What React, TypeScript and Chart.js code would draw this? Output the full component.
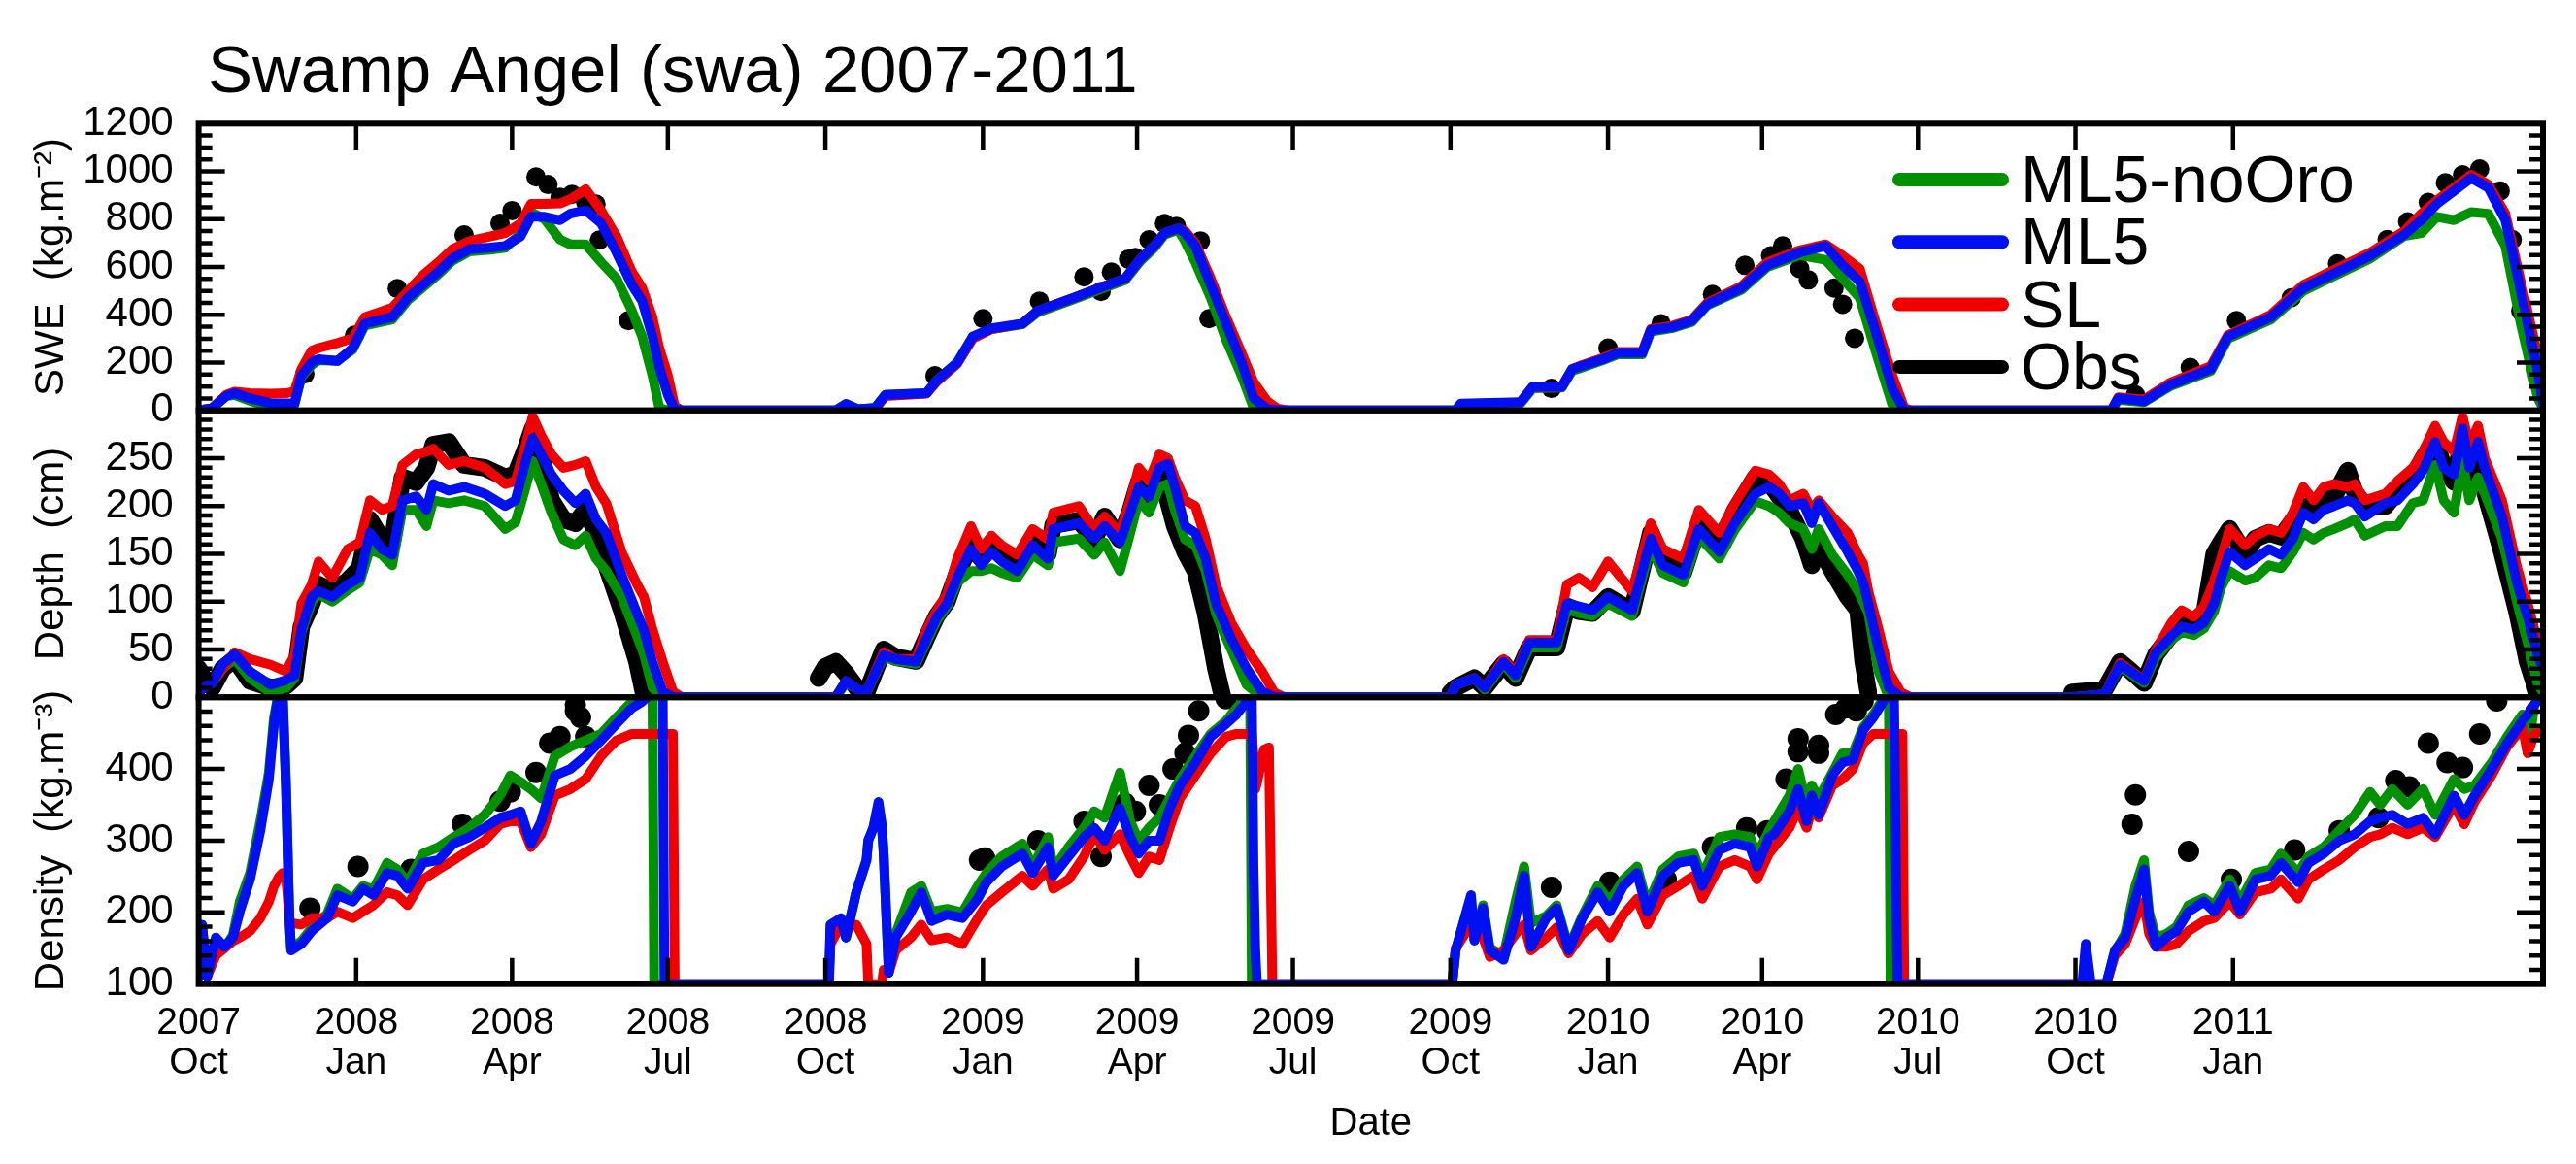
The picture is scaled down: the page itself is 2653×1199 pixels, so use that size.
import React, { useEffect, useRef } from "react";
import { Chart, registerables } from "chart.js";

Chart.register(...registerables);

const FONT = '"Liberation Sans", Arial, Helvetica, sans-serif';

// ---------- x axis: days since 2007-10-01 ----------
const X_MAX_DAY = 1369; // 2011-07-01
const TICK_DAYS = [0, 92, 183, 274, 366, 458, 548, 639, 731, 823, 913, 1004, 1096, 1188];
const TICK_YEARS = ["2007", "2008", "2008", "2008", "2008", "2009", "2009", "2009", "2009", "2010", "2010", "2010", "2010", "2011"];
const TICK_MONTHS = ["Oct", "Jan", "Apr", "Jul", "Oct", "Jan", "Apr", "Jul", "Oct", "Jan", "Apr", "Jul", "Oct", "Jan"];

const SERIES_NAMES = ["ML5-noOro", "ML5", "SL", "Obs"];
const SERIES_COLORS = ["#009100", "#0010f0", "#f00000", "#000000"];

const TITLE = "Swamp Angel (swa) 2007-2011";
const Y_TITLES = ["SWE  (kg.m\u207B\u00B2)", "Depth  (cm)", "Density  (kg.m\u207B\u00B3)"];

// ---------- SWE (kg m-2) ----------
const SWE_DAYS = [
  0, 8, 16, 21, 30, 42, 51, 56, 60, 66, 70, 81, 90, 97, 113, 122, 131, 140, 148, 158, 170, 179, 188, 194, 202, 211, 217, 226, 235, 244, 253, 259, 265, 269, 274, 278, 282, 300,
  372, 378, 385, 395, 401, 425, 431, 443, 452, 463, 481, 490, 511, 526, 541, 550, 558, 564, 572, 576, 582, 591, 600, 609, 616, 624, 630, 636, 700,
  734, 737, 755, 772, 779, 796, 802, 808, 820, 829, 843, 848, 861, 872, 881, 901, 916, 935, 950, 960, 970, 979, 989, 996, 1000, 1060,
  1117, 1121, 1136, 1151, 1175, 1185, 1210, 1229, 1249, 1268, 1288, 1298, 1307, 1317, 1327, 1337, 1347, 1356, 1366, 1369,
];
const SWE_ML5_NOORO = [
  0, 10, 60, 65, 40, 15, 20, 25, 140, 190, 210, 207, 255, 355, 380, 460, 515, 570, 625, 665, 672, 680, 740, 830, 800, 715, 695, 695, 620, 552, 417, 309, 146, 10, 0, 0, 0, 0,
  0, 27, 5, 10, 65, 72, 126, 200, 305, 340, 360, 410, 465, 505, 545, 625, 680, 735, 755, 708, 620, 471, 295, 146, 11, 0, 0, 0, 0,
  0, 25, 30, 30, 92, 95, 165, 180, 210, 235, 235, 330, 345, 370, 440, 505, 600, 650, 630, 552, 471, 255, 24, 0, 0, 0,
  0, 45, 35, 100, 165, 300, 380, 500, 570, 635, 730, 742, 810, 796, 830, 823, 688, 363, 51, 10,
];
const SWE_ML5 = [
  0, 10, 60, 72, 50, 30, 30, 30, 146, 200, 214, 207, 261, 363, 390, 471, 525, 580, 634, 674, 681, 688, 728, 810, 810, 796, 823, 837, 783, 661, 525, 458, 309, 180, 65, 4, 0, 0,
  0, 27, 5, 10, 65, 72, 126, 200, 309, 343, 363, 417, 471, 512, 552, 634, 688, 742, 762, 742, 688, 525, 363, 200, 51, 5, 0, 0, 0,
  0, 28, 32, 35, 99, 99, 173, 187, 214, 241, 241, 336, 349, 376, 444, 512, 607, 661, 688, 607, 539, 336, 92, 0, 0, 0,
  0, 51, 38, 106, 173, 309, 390, 512, 580, 647, 735, 796, 864, 918, 972, 932, 796, 498, 160, 25,
];
const SWE_SL = [
  0, 10, 65, 78, 72, 70, 72, 80, 173, 250, 261, 282, 302, 390, 430, 498, 566, 620, 674, 708, 728, 742, 782, 864, 864, 866, 884, 925, 837, 728, 580, 512, 390, 260, 146, 18, 0, 0,
  0, 20, 5, 5, 60, 70, 120, 195, 300, 340, 363, 417, 471, 512, 552, 634, 688, 742, 762, 750, 700, 552, 390, 241, 119, 38, 8, 0, 0,
  0, 20, 25, 35, 99, 99, 173, 190, 220, 245, 245, 340, 355, 380, 450, 520, 620, 670, 695, 647, 593, 376, 146, 10, 0, 0,
  0, 55, 45, 115, 185, 315, 400, 525, 595, 660, 750, 823, 878, 932, 986, 945, 823, 539, 227, 120,
];
const SWE_OBS_DAYS = [
  62, 91, 116, 155, 176, 183, 197, 204, 211, 218, 226, 232, 234, 251,
  430, 458, 491, 517, 527, 533, 543, 547, 555, 564, 571, 585, 590,
  790, 823, 854, 884, 903, 918, 925, 935, 940, 955, 960, 967,
  1131, 1163, 1190, 1222, 1249, 1278, 1290, 1302, 1312, 1322, 1332, 1344, 1351, 1356,
];
const SWE_OBS = [
  153, 315, 510, 734, 783, 836, 977, 945, 892, 904, 871, 863, 713, 376,
  145, 384, 457, 559, 498, 579, 633, 640, 714, 782, 770, 709, 384,
  92, 261, 363, 485, 607, 647, 688, 593, 546, 512, 444, 302,
  65, 180, 376, 471, 613, 715, 789, 870, 952, 986, 1010, 918, 715, 417,
];

// ---------- Snow depth (cm) ----------
const DEPTH_DAYS = [
  0, 3, 8, 14, 21, 30, 42, 51, 56, 60, 66, 70, 78, 87, 94, 100, 107, 113, 119, 127, 133, 137, 146, 155, 167, 179, 185, 191, 195, 200, 206, 213, 220, 226, 232, 238, 247, 256, 260, 265, 271, 277, 282, 300,
  362, 366, 372, 378, 385, 390, 400, 407, 419, 425, 431, 437, 443, 451, 457, 463, 469, 478, 487, 496, 499, 514, 523, 529, 538, 544, 549, 555, 561, 566, 570, 576, 582, 588, 594, 598, 603, 612, 621, 628, 634, 700,
  731, 734, 745, 751, 762, 769, 777, 793, 799, 806, 814, 823, 837, 848, 855, 867, 876, 888, 897, 909, 917, 923, 929, 937, 942, 946, 954, 963, 969, 972, 975, 981, 987, 994, 1000, 1060,
  1094, 1113, 1122, 1128, 1136, 1143, 1152, 1158, 1165, 1171, 1177, 1181, 1186, 1195, 1201, 1209, 1216, 1223, 1229, 1235, 1241, 1247, 1255, 1259, 1265, 1277, 1284, 1293, 1299, 1306, 1311, 1317, 1322, 1326, 1331, 1335, 1345, 1354, 1360, 1366, 1369,
];
const DEPTH_ML5_NOORO = [
  5, 10, 15, 30, 40, 20, 5, 10, 20, 68, 100, 108, 100, 112, 120, 155, 149, 138, 196, 196, 179, 206, 203, 206, 200, 176, 183, 220, 247, 223, 193, 165, 159, 169, 145, 132, 105, 64, 45, 10, 0, 0, 0, 0,
  0, 0, 0, 15, 8, 5, 42, 38, 35, 58, 80, 95, 120, 132, 132, 135, 130, 125, 149, 138, 162, 166, 149, 162, 132, 172, 206, 193, 220, 223, 196, 165, 159, 132, 88, 70, 50, 13, 0, 0, 0, 0,
  0, 13, 20, 8, 35, 20, 52, 52, 92, 88, 85, 98, 85, 158, 130, 120, 168, 145, 175, 205, 200, 193, 182, 176, 155, 176, 149, 128, 111, 100, 88, 27, 0, 0, 0, 0,
  0, 3, 32, 25, 15, 42, 60, 68, 65, 72, 90, 115, 132, 122, 125, 138, 135, 152, 172, 165, 172, 176, 182, 186, 169, 179, 179, 203, 206, 243, 206, 193, 247, 206, 230, 213, 166, 98, 57, 13, 5,
];
const DEPTH_ML5 = [
  5, 10, 15, 35, 45, 27, 13, 18, 23, 71, 105, 111, 105, 118, 125, 172, 155, 149, 206, 210, 196, 223, 216, 220, 213, 200, 206, 247, 271, 254, 233, 216, 203, 213, 186, 172, 128, 88, 70, 37, 6, 0, 0, 0,
  0, 0, 0, 17, 8, 6, 44, 40, 37, 61, 84, 98, 125, 155, 138, 152, 142, 132, 159, 145, 176, 182, 166, 179, 162, 193, 220, 210, 240, 244, 220, 179, 172, 145, 98, 82, 61, 30, 6, 0, 0, 0,
  0, 13, 20, 10, 37, 23, 57, 57, 98, 95, 91, 105, 91, 166, 138, 128, 176, 152, 182, 213, 220, 213, 200, 203, 182, 203, 179, 152, 132, 120, 98, 50, 10, 0, 0, 0,
  0, 3, 34, 27, 17, 47, 64, 74, 71, 78, 98, 125, 152, 138, 145, 155, 149, 166, 193, 186, 196, 200, 206, 203, 189, 203, 206, 223, 237, 267, 240, 233, 281, 240, 267, 240, 189, 118, 84, 44, 30,
];
const DEPTH_SL = [
  5, 10, 15, 30, 47, 40, 34, 27, 44, 98, 118, 142, 125, 155, 162, 206, 196, 200, 243, 254, 257, 260, 243, 247, 240, 223, 226, 264, 294, 274, 254, 240, 243, 247, 220, 203, 152, 118, 105, 71, 37, 6, 0, 0,
  0, 0, 0, 17, 8, 6, 47, 40, 40, 71, 91, 108, 145, 179, 155, 169, 159, 149, 176, 165, 193, 200, 176, 189, 172, 206, 240, 226, 254, 250, 230, 206, 200, 166, 118, 100, 78, 50, 27, 5, 0, 0,
  0, 13, 20, 10, 40, 25, 60, 60, 118, 125, 115, 142, 111, 182, 155, 145, 196, 172, 203, 237, 233, 223, 206, 213, 196, 206, 189, 172, 149, 140, 111, 71, 27, 5, 0, 0,
  0, 3, 36, 28, 18, 50, 78, 91, 84, 95, 122, 145, 176, 159, 169, 176, 172, 193, 220, 206, 220, 223, 220, 223, 206, 213, 226, 240, 257, 284, 267, 257, 294, 264, 284, 250, 206, 135, 98, 57, 44,
];
const DEPTH_OBS = [
  30, 20, 10, 30, 40, 17, 10, 12, 20, 74, 98, 118, 111, 122, 135, 186, 165, 162, 230, 225, 240, 264, 267, 243, 240, 230, 233, 260, 281, 254, 206, 186, 182, 196, 172, 138, 91, 37, 3, null, null, null, null, null,
  20, 32, 37, 25, 8, 5, 50, 42, 38, 62, 85, 100, 130, 160, 145, 158, 150, 140, 165, 150, 180, 185, 165, 189, 165, 195, 225, 210, 240, 206, 179, 152, 132, 88, 30, 0, null, null, null, null, null, null,
  5, 10, 20, 10, 35, 20, 52, 52, 95, 90, 88, 105, 90, 172, 140, 130, 180, 155, 195, 230, 225, 210, 195, 166, 138, 160, 132, 105, 91, 37, 5, null, null, null, null, null,
  5, 8, 37, 28, 15, 45, 66, 85, 75, 85, 150, 162, 176, 150, 166, 172, 168, 185, 200, 192, 205, 210, 237, 215, 200, 200, 215, 230, 250, 270, 240, 225, 270, 235, 255, 215, 152, 88, 37, 3, null,
];

// ---------- Snow density (kg m-3) ----------
const DENS_DAYS = [
  0, 2, 5, 10, 15, 20, 24, 30, 36, 41, 44, 47, 49, 51, 53, 54, 60, 66, 75, 81, 90, 96, 102, 110, 116, 122, 131, 140, 149, 158, 167, 176, 182, 188, 194, 200, 208, 217, 226, 235, 244, 253, 259, 264, 265, 266, 271, 272, 277, 278, 300,
  368, 369, 375, 378, 384, 390, 391, 394, 397, 399, 400, 403, 407, 416, 422, 428, 437, 446, 455, 460, 469, 481, 487, 496, 499, 508, 517, 523, 529, 538, 544, 549, 555, 561, 567, 573, 582, 591, 600, 606, 612, 614, 615, 616, 617, 618, 622, 625, 627, 650,
  732, 734, 743, 745, 750, 754, 762, 769, 774, 778, 787, 793, 800, 808, 817, 824, 832, 840, 846, 855, 864, 873, 878, 888, 897, 906, 910, 917, 920, 929, 934, 939, 942, 946, 954, 960, 966, 972, 978, 985, 987, 988, 990, 992, 995, 996, 1050,
  1099, 1100, 1102, 1105, 1114, 1119, 1125, 1131, 1136, 1139, 1143, 1149, 1155, 1162, 1171, 1177, 1186, 1192, 1201, 1210, 1216, 1226, 1232, 1241, 1250, 1259, 1268, 1274, 1281, 1290, 1299, 1306, 1317, 1323, 1329, 1339, 1348, 1357, 1360, 1364, 1369,
];
const DENS_ML5_NOORO = [
  110, 180, 111, 160, 150, 168, 215, 255, 327, 395, 472, 510, 505, 380, 185, 150, 160, 178, 198, 233, 219, 237, 232, 269, 260, 242, 282, 291, 305, 318, 336, 363, 391, 382, 372, 359, 418, 431, 440, 449, 472, 494, 499, 505, 505, 100, 100, 100, 100, 100, 100,
  100, 183, 190, 165, 228, 273, 300, 318, 350, 320, 282, 116, 170, 228, 237, 201, 205, 200, 237, 255, 278, 296, 264, 305, 260, 291, 318, 341, 332, 395, 327, 300, 318, 332, 359, 386, 418, 449, 467, 485, 499, 505, 100, 100, 100, 100, 100, 100, 100, 100,
  100, 147, 220, 161, 210, 150, 140, 215, 264, 185, 195, 210, 150, 195, 237, 215, 246, 264, 210, 260, 278, 282, 250, 305, 309, 305, 280, 314, 327, 363, 400, 350, 377, 359, 395, 422, 422, 458, 476, 503, 505, 100, 100, 100, 100, 100, 100,
  100, 100, 100, 100, 100, 145, 170, 237, 273, 200, 165, 170, 180, 210, 220, 210, 246, 215, 255, 260, 282, 255, 278, 291, 314, 336, 368, 350, 372, 350, 372, 336, 386, 372, 377, 409, 445, 476, 422, 490, 505,
];
const DENS_ML5 = [
  110, 183, 111, 165, 152, 165, 201, 246, 314, 386, 463, 510, 510, 372, 192, 147, 156, 174, 192, 224, 215, 233, 224, 255, 251, 233, 269, 273, 296, 305, 318, 332, 336, 341, 296, 327, 391, 400, 418, 440, 463, 485, 494, 505, 505, 505, 505, 100, 100, 100, 100,
  100, 183, 192, 165, 228, 273, 300, 318, 354, 320, 282, 116, 165, 201, 228, 188, 197, 192, 219, 242, 264, 282, 255, 291, 251, 278, 305, 318, 300, 345, 305, 282, 300, 300, 345, 377, 409, 445, 463, 476, 494, 505, 505, 264, 150, 100, 100, 100, 100, 100,
  100, 147, 224, 161, 206, 147, 134, 192, 251, 152, 192, 206, 147, 192, 228, 201, 237, 255, 201, 251, 269, 273, 237, 287, 296, 291, 264, 305, 309, 341, 372, 327, 363, 336, 391, 409, 413, 454, 472, 499, 505, 505, 505, 100, 100, 100, 100,
  100, 100, 156, 100, 100, 147, 165, 219, 260, 192, 152, 165, 174, 201, 215, 201, 237, 201, 246, 251, 269, 242, 269, 282, 300, 309, 327, 332, 336, 323, 332, 309, 363, 336, 363, 400, 436, 467, 476, 490, 505,
];
const DENS_SL = [
  110, 120, 111, 140, 150, 160, 165, 174, 192, 215, 237, 250, 255, 250, 192, 185, 183, 192, 192, 201, 192, 201, 210, 228, 224, 210, 246, 260, 273, 287, 300, 323, 327, 327, 291, 309, 363, 372, 386, 418, 440, 449, 449, 449, 449, 449, 449, 449, 449, 100, 100,
  100, 156, 183, 183, 183, 156, 100, 100, 100, 100, 120, 116, 147, 165, 183, 161, 165, 156, 192, 210, 228, 251, 237, 260, 233, 246, 278, 309, 287, 309, 278, 255, 278, 273, 318, 359, 391, 422, 445, 449, 449, 449, 449, 420, 372, 380, 427, 430, 100, 100,
  100, 150, 183, 170, 165, 138, 147, 170, 183, 147, 165, 179, 143, 170, 188, 165, 197, 219, 183, 224, 237, 251, 219, 264, 273, 264, 246, 282, 291, 318, 345, 318, 345, 332, 377, 386, 400, 436, 449, 449, 449, 449, 449, 449, 449, 100, 100,
  100, 100, 100, 100, 100, 140, 156, 192, 215, 170, 152, 152, 156, 174, 188, 192, 215, 197, 228, 233, 246, 219, 246, 260, 273, 291, 305, 309, 318, 309, 318, 305, 350, 323, 354, 391, 431, 458, 422, 449, 453,
];
const DENS_OBS_DAYS = [
  65, 93, 124, 154, 176, 182, 197, 205, 211, 220, 220, 223, 226,
  456, 459, 490, 517, 527, 535, 541, 547, 555, 561, 569, 576, 578, 584, 600,
  790, 824, 857, 884, 904, 916, 927, 934, 934, 946, 946, 956, 962, 968, 972,
  1129, 1131, 1162, 1187, 1224, 1250, 1273, 1283, 1291, 1302, 1313, 1322, 1332, 1342,
];
const DENS_OBS = [
  206, 264, 260, 323, 355, 368, 395, 436, 445, 481, 490, 472, 445,
  273, 276, 300, 327, 278, 341, 352, 341, 377, 350, 400, 422, 447, 481, 498,
  235, 242, 246, 291, 318, 314, 386, 424, 442, 433, 422, 476, 485, 481, 495,
  323, 364, 285, 246, 287, 314, 332, 384, 375, 436, 409, 402, 449, 495,
];

// ---------- helpers ----------
const pts = (days: number[], vals: (number | null)[]) => days.map((d, i) => ({ x: d, y: vals[i] }));

function modelSet(label: string, color: string, axis: string, days: number[], vals: number[], order: number) {
  return {
    type: "line",
    label,
    data: pts(days, vals),
    yAxisID: axis,
    borderColor: color,
    backgroundColor: color,
    borderWidth: 10,
    borderJoinStyle: "round",
    borderCapStyle: "round",
    pointRadius: 0,
    tension: 0,
    fill: false,
    order,
  };
}
function dotSet(axis: string, days: number[], vals: number[], r: number) {
  return {
    type: "line",
    label: "Obs",
    data: pts(days, vals),
    yAxisID: axis,
    showLine: false,
    pointRadius: r,
    pointBorderWidth: 0,
    pointBackgroundColor: "#000",
    pointBorderColor: "#000",
    order: 3,
  };
}

const [C_NOORO, C_ML5, C_SL, C_OBS] = SERIES_COLORS;

const decorPlugin = {
  id: "decor",
  afterDatasetsDraw(chart: any) {
    const { ctx } = chart;
    const xs = chart.scales.x;
    const panels = [
      { s: chart.scales.ySWE, minor: 50, major: 200 },
      { s: chart.scales.yDepth, minor: 10, major: 50 },
      { s: chart.scales.yDens, minor: 20, major: 100 },
    ];
    ctx.save();
    ctx.strokeStyle = "#000";
    ctx.lineCap = "butt";
    ctx.lineWidth = 4.5;
    for (const p of panels) {
      const min = p.s.min, max = p.s.max;
      for (let v = min + p.minor; v < max - 1e-6; v += p.minor) {
        const q = v / p.major;
        const isMajor = Math.abs(q - Math.round(q)) < 1e-6;
        const len = isMajor ? 27 : 14;
        const py = p.s.getPixelForValue(v);
        ctx.beginPath();
        ctx.moveTo(xs.left, py);
        ctx.lineTo(xs.left + len, py);
        ctx.moveTo(xs.right, py);
        ctx.lineTo(xs.right - len, py);
        ctx.stroke();
      }
    }
    const topS = panels[0].s, botS = panels[2].s;
    for (const d of TICK_DAYS) {
      const px = xs.getPixelForValue(d);
      ctx.beginPath();
      ctx.moveTo(px, topS.top);
      ctx.lineTo(px, topS.top + 27);
      ctx.moveTo(px, botS.bottom);
      ctx.lineTo(px, botS.bottom - 27);
      ctx.stroke();
    }
    ctx.lineWidth = 6;
    for (const p of panels) {
      ctx.strokeRect(xs.left, p.s.top, xs.right - xs.left, p.s.bottom - p.s.top);
    }
    ctx.restore();
  },
  afterDraw(chart: any) {
    const { ctx } = chart;
    ctx.save();
    // title
    ctx.fillStyle = "#000";
    ctx.font = `69px ${FONT}`;
    ctx.textAlign = "left";
    ctx.textBaseline = "alphabetic";
    ctx.fillText(TITLE, 214, 95);
    // legend
    ctx.lineCap = "round";
    ctx.lineWidth = 14;
    ctx.font = `68px ${FONT}`;
    SERIES_NAMES.forEach((name, i) => {
      const yc = 185 + i * 64.3;
      ctx.strokeStyle = SERIES_COLORS[i];
      ctx.beginPath();
      ctx.moveTo(1956, yc);
      ctx.lineTo(2062, yc);
      ctx.stroke();
      ctx.fillStyle = "#000";
      ctx.fillText(name, 2081, yc + 23);
    });
    ctx.restore();
  },
};

function yScale(title: string, min: number, max: number, step: number, weight: number, hideMax: boolean) {
  return {
    type: "linear",
    position: "left",
    stack: "panels",
    stackWeight: 1,
    weight,
    min,
    max,
    afterFit: (s: any) => {
      s.width = 204.6;
    },
    ticks: {
      stepSize: step,
      autoSkip: false,
      padding: 26,
      color: "#000",
      font: { family: FONT, size: 42 },
      callback: (v: number) => (hideMax && v === max ? "" : String(v)),
    },
    grid: { display: false, drawTicks: false },
    border: { display: false },
    title: {
      display: true,
      text: title,
      color: "#000",
      font: { family: FONT, size: 42, lineHeight: 1.2 },
      padding: { top: 28, bottom: 0 },
    },
  };
}

export default function App() {
  const ref = useRef<HTMLCanvasElement>(null);
  useEffect(() => {
    const canvas = ref.current;
    if (!canvas) return;
    Chart.defaults.font.family = FONT;
    Chart.defaults.color = "#000";
    const chart = new Chart(canvas, {
      type: "line",
      data: {
        datasets: [
          // SWE
          modelSet("ML5", C_ML5, "ySWE", SWE_DAYS, SWE_ML5, 0),
          modelSet("SL", C_SL, "ySWE", SWE_DAYS, SWE_SL, 1),
          modelSet("ML5-noOro", C_NOORO, "ySWE", SWE_DAYS, SWE_ML5_NOORO, 2),
          dotSet("ySWE", SWE_OBS_DAYS, SWE_OBS, 10),
          // Depth
          modelSet("ML5", C_ML5, "yDepth", DEPTH_DAYS, DEPTH_ML5, 0),
          modelSet("SL", C_SL, "yDepth", DEPTH_DAYS, DEPTH_SL, 1),
          modelSet("ML5-noOro", C_NOORO, "yDepth", DEPTH_DAYS, DEPTH_ML5_NOORO, 2),
          {
            type: "line",
            label: "Obs",
            data: pts(DEPTH_DAYS, DEPTH_OBS),
            yAxisID: "yDepth",
            borderColor: C_OBS,
            borderWidth: 18,
            borderJoinStyle: "round",
            borderCapStyle: "round",
            pointRadius: 0,
            tension: 0,
            spanGaps: false,
            order: 3,
          },
          // Density
          modelSet("ML5", C_ML5, "yDens", DENS_DAYS, DENS_ML5, 0),
          modelSet("SL", C_SL, "yDens", DENS_DAYS, DENS_SL, 1),
          modelSet("ML5-noOro", C_NOORO, "yDens", DENS_DAYS, DENS_ML5_NOORO, 2),
          dotSet("yDens", DENS_OBS_DAYS, DENS_OBS, 11),
        ] as any,
      },
      options: {
        responsive: false,
        animation: false,
        devicePixelRatio: 1,
        events: [],
        layout: { padding: { top: 127.3, right: 34, bottom: 0, left: 0 } },
        plugins: { legend: { display: false }, tooltip: { enabled: false }, title: { display: false } },
        scales: {
          x: {
            type: "linear",
            position: "bottom",
            min: 0,
            max: X_MAX_DAY,
            afterBuildTicks: (s: any) => {
              s.ticks = TICK_DAYS.map((v) => ({ value: v }));
            },
            afterFit: (s: any) => {
              s.height = 185.3;
            },
            ticks: {
              autoSkip: false,
              maxRotation: 0,
              minRotation: 0,
              padding: 20,
              color: "#000",
              font: { family: FONT, size: 39, lineHeight: 1.05 },
              callback: (_v: any, i: number) => [TICK_YEARS[i], TICK_MONTHS[i]],
            },
            grid: { display: false, drawTicks: false },
            border: { display: false },
            title: {
              display: true,
              text: "Date",
              color: "#000",
              font: { family: FONT, size: 40, lineHeight: 1.2 },
              padding: { top: 0, bottom: 17 },
            },
          },
          ySWE: yScale(Y_TITLES[0], 0, 1200, 200, 3, false),
          yDepth: yScale(Y_TITLES[1], 0, 300, 50, 2, true),
          yDens: yScale(Y_TITLES[2], 100, 500, 100, 1, true),
        } as any,
      },
      plugins: [decorPlugin],
    } as any);
    return () => chart.destroy();
  }, []);
  return (
    <div style={{ position: "fixed", left: 0, top: 0, width: 2653, height: 1199, background: "#fff" }}>
      <canvas ref={ref} width={2653} height={1199} style={{ display: "block" }} />
    </div>
  );
}
